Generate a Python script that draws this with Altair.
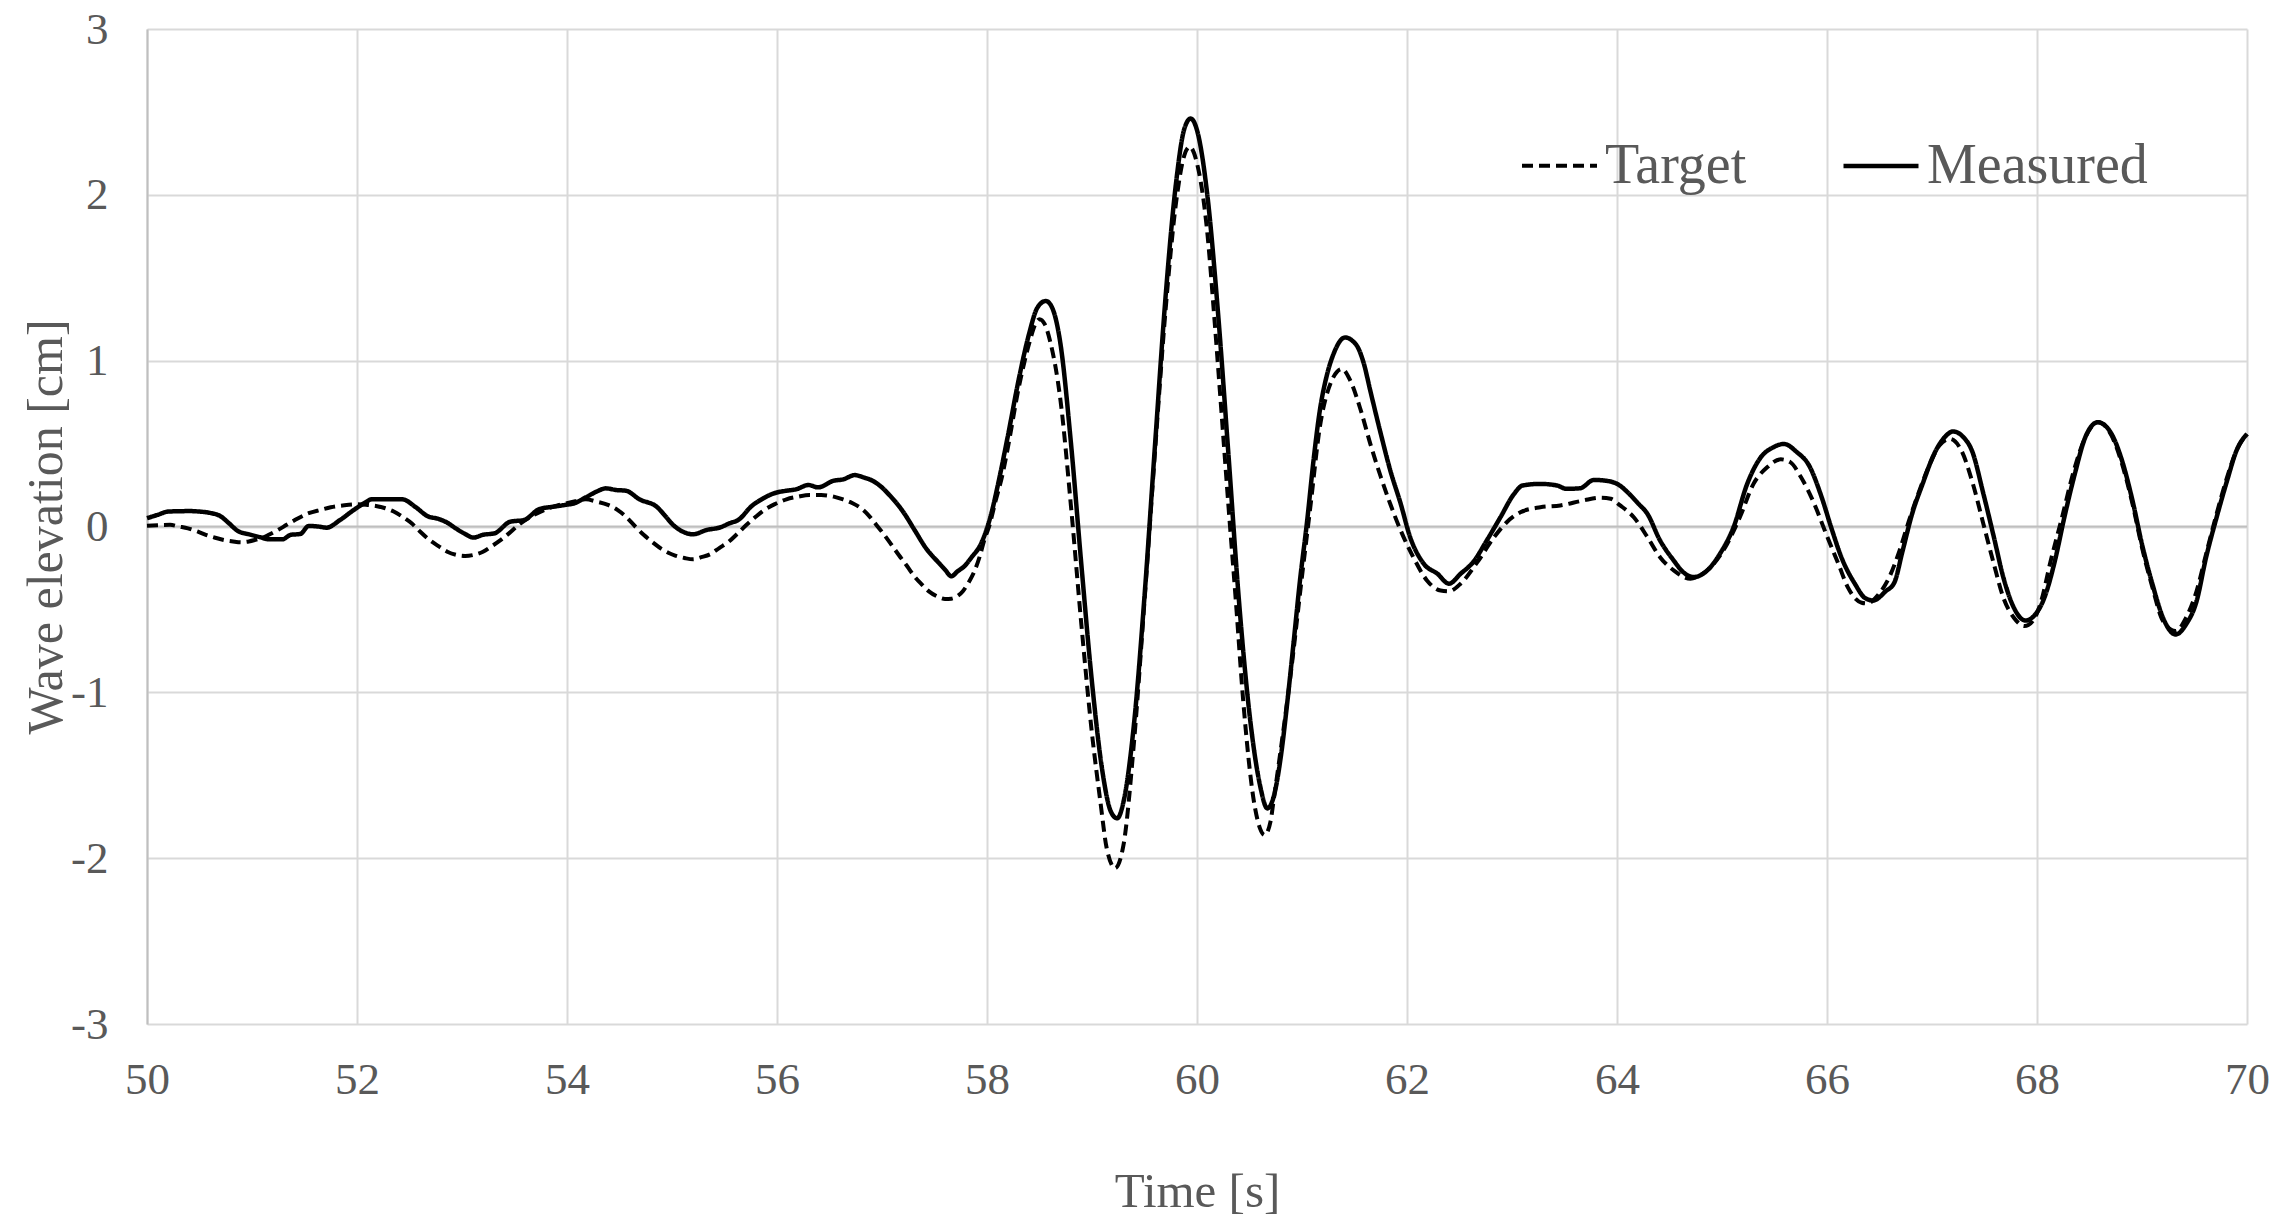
import altair as alt
import pandas as pd

# ---- data ----
target_t = [50.00, 50.10, 50.22, 50.30, 50.39, 50.48, 50.56, 50.65, 50.73, 50.82, 50.90, 50.97,
            51.03, 51.10, 51.16, 51.25, 51.33, 51.44, 51.54, 51.65, 51.75, 51.88, 52.01, 52.10,
            52.18, 52.27, 52.35, 52.43, 52.52, 52.60, 52.69, 52.78, 52.86, 52.95, 53.03, 53.12,
            53.20, 53.28, 53.37, 53.45, 53.54, 53.65, 53.75, 53.86, 53.97, 54.08, 54.18, 54.28,
            54.39, 54.48, 54.56, 54.65, 54.73, 54.82, 54.90, 54.97, 55.03, 55.12, 55.20, 55.28,
            55.37, 55.45, 55.54, 55.62, 55.71, 55.80, 55.88, 55.98, 56.09, 56.20, 56.31, 56.42,
            56.54, 56.63, 56.72, 56.80, 56.87, 56.94, 57.01, 57.09, 57.16, 57.24, 57.31, 57.38,
            57.45, 57.52, 57.60, 57.66, 57.71, 57.77, 57.82, 57.88, 57.93, 57.98, 58.02, 58.08,
            58.15, 58.20, 58.30, 58.40, 58.46, 58.50, 58.55, 58.60, 58.70, 58.80, 58.90, 59.00,
            59.08, 59.14, 59.22, 59.30, 59.40, 59.50, 59.60, 59.70, 59.80, 59.88, 59.93, 60.00,
            60.10, 60.16, 60.22, 60.30, 60.37, 60.44, 60.54, 60.60, 60.645, 60.70, 60.73, 60.79,
            60.90, 61.00, 61.08, 61.17, 61.27, 61.38, 61.46, 61.56, 61.65, 61.75, 61.84, 61.94,
            62.06, 62.19, 62.32, 62.40, 62.51, 62.67, 62.83, 62.95, 63.08, 63.27, 63.46, 63.68,
            63.84, 63.94, 64.03, 64.16, 64.29, 64.41, 64.54, 64.70, 64.79, 64.92, 65.05, 65.17,
            65.30, 65.43, 65.56, 65.65, 65.75, 65.88, 65.98, 66.11, 66.20, 66.33, 66.38, 66.49,
            66.59, 66.69, 66.78, 66.88, 66.98, 67.07, 67.17, 67.28, 67.39, 67.49, 67.59, 67.68,
            67.78, 67.88, 67.96, 68.04, 68.13, 68.23, 68.36, 68.46, 68.58, 68.71, 68.81, 68.91,
            69.00, 69.10, 69.20, 69.32, 69.42, 69.52, 69.61, 69.71, 69.81, 69.90, 70.00]
target_v = [0.005, 0.008, 0.010, 0.000, -0.011, -0.030, -0.050, -0.068, -0.081, -0.090, -0.095, -0.090,
            -0.081, -0.068, -0.050, -0.020, 0.010, 0.050, 0.080, 0.100, 0.116, 0.128, 0.134, 0.130,
            0.124, 0.110, 0.090, 0.060, 0.019, -0.030, -0.081, -0.120, -0.152, -0.172, -0.178, -0.170,
            -0.152, -0.120, -0.081, -0.040, 0.010, 0.058, 0.090, 0.118, 0.136, 0.152, 0.164, 0.150,
            0.130, 0.100, 0.060, 0.000, -0.050, -0.097, -0.135, -0.160, -0.175, -0.190, -0.198, -0.185,
            -0.165, -0.130, -0.092, -0.045, 0.010, 0.060, 0.100, 0.135, 0.164, 0.180, 0.190, 0.190,
            0.180, 0.163, 0.140, 0.110, 0.069, 0.015, -0.041, -0.110, -0.172, -0.240, -0.302, -0.350,
            -0.393, -0.420, -0.437, -0.435, -0.423, -0.390, -0.343, -0.270, -0.182, -0.070, 0.000, 0.150,
            0.320, 0.480, 0.830, 1.100, 1.220, 1.250, 1.220, 1.120, 0.760, 0.120, -0.600, -1.250,
            -1.660, -1.940, -2.060, -1.920, -1.300, -0.450, 0.450, 1.300, 1.950, 2.240, 2.290, 2.190,
            1.760, 1.300, 0.800, 0.120, -0.450, -1.050, -1.650, -1.820, -1.860, -1.780, -1.650, -1.380,
            -0.850, -0.300, 0.120, 0.600, 0.860, 0.950, 0.880, 0.700, 0.500, 0.300, 0.137, -0.024,
            -0.185, -0.325, -0.386, -0.390, -0.345, -0.215, -0.064, 0.026, 0.086, 0.116, 0.127, 0.157,
            0.173, 0.167, 0.127, 0.056, -0.064, -0.185, -0.265, -0.315, -0.295, -0.225, -0.104, 0.056,
            0.257, 0.357, 0.405, 0.388, 0.300, 0.135, -0.026, -0.228, -0.369, -0.460, -0.464, -0.410,
            -0.310, -0.147, 0.034, 0.216, 0.377, 0.488, 0.528, 0.458, 0.256, 0.014, -0.228, -0.430,
            -0.550, -0.600, -0.570, -0.450, -0.208, 0.034, 0.357, 0.538, 0.629, 0.548, 0.377, 0.135,
            -0.127, -0.369, -0.570, -0.630, -0.550, -0.389, -0.167, 0.075, 0.296, 0.458, 0.558]

measured_t = [50.00, 50.10, 50.20, 50.30, 50.40, 50.50, 50.60, 50.70, 50.78, 50.86, 50.99, 51.08,
              51.16, 51.29, 51.37, 51.46, 51.54, 51.63, 51.71, 51.84, 51.97, 52.08, 52.14, 52.31,
              52.43, 52.56, 52.67, 52.78, 52.86, 52.94, 53.03, 53.11, 53.20, 53.31, 53.46, 53.59,
              53.74, 53.88, 53.98, 54.07, 54.18, 54.28, 54.37, 54.47, 54.56, 54.69, 54.86, 54.94,
              55.01, 55.10, 55.20, 55.33, 55.46, 55.55, 55.63, 55.76, 55.87, 55.97, 56.08, 56.18,
              56.30, 56.39, 56.54, 56.63, 56.74, 56.83, 56.91, 57.00, 57.07, 57.14, 57.20, 57.31,
              57.42, 57.53, 57.60, 57.66, 57.72, 57.78, 57.86, 57.93, 58.00, 58.05, 58.10, 58.20,
              58.30, 58.40, 58.48, 58.56, 58.62, 58.70, 58.80, 58.90, 59.00, 59.10, 59.18, 59.24,
              59.30, 59.40, 59.50, 59.60, 59.70, 59.80, 59.88, 59.94, 60.00, 60.10, 60.20, 60.30,
              60.40, 60.50, 60.60, 60.67, 60.73, 60.80, 60.86, 60.92, 60.98, 61.05, 61.11, 61.17,
              61.24, 61.30, 61.41, 61.48, 61.54, 61.59, 61.65, 61.75, 61.84, 61.94, 62.03, 62.16,
              62.29, 62.40, 62.51, 62.63, 62.76, 62.89, 63.02, 63.10, 63.27, 63.43, 63.52, 63.65,
              63.78, 63.94, 64.02, 64.10, 64.20, 64.29, 64.41, 64.54, 64.63, 64.73, 64.86, 64.98,
              65.11, 65.24, 65.37, 65.49, 65.59, 65.71, 65.83, 65.95, 66.04, 66.14, 66.27, 66.36,
              66.44, 66.56, 66.64, 66.72, 66.81, 66.91, 67.02, 67.12, 67.20, 67.30, 67.38, 67.49,
              67.59, 67.68, 67.78, 67.89, 67.97, 68.07, 68.17, 68.26, 68.36, 68.46, 68.58, 68.71,
              68.81, 68.91, 69.00, 69.10, 69.20, 69.32, 69.42, 69.52, 69.61, 69.71, 69.81, 69.90,
              70.00]
measured_v = [0.050, 0.070, 0.090, 0.092, 0.093, 0.090, 0.082, 0.062, 0.020, -0.025, -0.050, -0.065,
              -0.077, -0.077, -0.050, -0.045, 0.003, 0.000, -0.007, 0.040, 0.100, 0.145, 0.164, 0.164,
              0.164, 0.116, 0.063, 0.045, 0.023, -0.011, -0.045, -0.067, -0.050, -0.041, 0.029, 0.039,
              0.106, 0.120, 0.130, 0.140, 0.176, 0.210, 0.230, 0.220, 0.216, 0.164, 0.116, 0.060,
              0.010, -0.030, -0.047, -0.021, -0.005, 0.020, 0.039, 0.124, 0.170, 0.200, 0.215, 0.224,
              0.250, 0.236, 0.276, 0.284, 0.310, 0.295, 0.276, 0.235, 0.190, 0.140, 0.090, -0.021,
              -0.132, -0.212, -0.260, -0.300, -0.270, -0.242, -0.180, -0.120, -0.010, 0.100, 0.240, 0.550,
              0.880, 1.160, 1.320, 1.360, 1.320, 1.100, 0.500, -0.240, -0.940, -1.480, -1.720, -1.760,
              -1.660, -1.190, -0.420, 0.490, 1.380, 2.070, 2.400, 2.460, 2.390, 1.990, 1.290, 0.430,
              -0.450, -1.130, -1.560, -1.700, -1.630, -1.380, -1.060, -0.700, -0.330, 0.040, 0.400, 0.700,
              0.920, 1.040, 1.140, 1.120, 1.070, 0.980, 0.820, 0.560, 0.340, 0.137, -0.064, -0.225,
              -0.285, -0.345, -0.285, -0.215, -0.084, 0.056, 0.197, 0.247, 0.257, 0.247, 0.227, 0.231,
              0.281, 0.271, 0.250, 0.207, 0.140, 0.076, -0.084, -0.205, -0.275, -0.305, -0.265, -0.165,
              -0.004, 0.257, 0.418, 0.478, 0.498, 0.450, 0.367, 0.175, -0.006, -0.190, -0.350, -0.430,
              -0.446, -0.390, -0.340, -0.147, 0.075, 0.256, 0.437, 0.538, 0.573, 0.538, 0.458, 0.196,
              -0.066, -0.308, -0.490, -0.567, -0.540, -0.430, -0.208, 0.054, 0.317, 0.538, 0.629, 0.558,
              0.397, 0.155, -0.107, -0.349, -0.550, -0.651, -0.590, -0.450, -0.187, 0.054, 0.276, 0.458,
              0.558]

series_names = ["Target", "Measured"]
x_ticks = [50, 52, 54, 56, 58, 60, 62, 64, 66, 68, 70]
y_ticks = [-3, -2, -1, 0, 1, 2, 3]
zero_line = [0]

# ---- tables ----
df = pd.concat([
    pd.DataFrame({"t": target_t, "v": target_v, "series": "Target", "order": range(len(target_t))}),
    pd.DataFrame({"t": measured_t, "v": measured_v, "series": "Measured", "order": range(len(measured_t))}),
], ignore_index=True)
zero_df = pd.DataFrame({"v": zero_line})

FONT = "Liberation Serif"
TXT = "#595959"
GRID = "#d9d9d9"

x_scale = alt.Scale(domain=[50, 70], nice=False, zero=False)
y_scale = alt.Scale(domain=[-3, 3], nice=False)

x_axis = alt.Axis(values=x_ticks, title="Time [s]", grid=True, gridColor=GRID, gridWidth=2,
                  domain=False, ticks=False, labelFont=FONT, labelFontSize=45, labelColor=TXT,
                  labelPadding=33, titleFont=FONT, titleFontSize=49, titleFontWeight="normal",
                  titleColor=TXT, titleBaseline="alphabetic", titleY=182, labelFlush=False)
y_axis = alt.Axis(values=y_ticks, title="Wave elevation [cm]", grid=True, gridColor=GRID, gridWidth=2,
                  domain=True, domainColor="#bfbfbf", domainWidth=2, ticks=False,
                  labelFont=FONT, labelFontSize=45, labelColor=TXT, labelPadding=39,
                  labelExpr="datum.value < 0 ? '-' + abs(datum.value) : '' + datum.value",
                  titleFont=FONT, titleFontSize=50, titleFontWeight="normal", titleColor=TXT,
                  titleAngle=270, titleBaseline="alphabetic", titleX=-86, titleY=497.5,
                  titleAlign="center", labelFlush=False)

zero_rule = alt.Chart(zero_df).mark_rule(color="#bfbfbf", strokeWidth=2).encode(
    y=alt.Y("v:Q", scale=y_scale, axis=y_axis)
)

lines = alt.Chart(df).mark_line(color="black", interpolate="monotone", strokeCap="butt").encode(
    x=alt.X("t:Q", scale=x_scale, axis=x_axis),
    y=alt.Y("v:Q", scale=y_scale, axis=y_axis),
    detail="series:N",
    order="order:Q",
    strokeDash=alt.StrokeDash(
        "series:N",
        scale=alt.Scale(domain=series_names, range=[[11, 6], [1, 0]]),
        legend=alt.Legend(title=None, orient="none", legendX=1373, legendY=97, direction="horizontal",
                          symbolType="stroke", symbolSize=5625, symbolStrokeWidth=4,
                          symbolStrokeColor="black", labelFont=FONT, labelFontSize=56,
                          labelColor=TXT, labelOffset=6, labelLimit=400, columnPadding=87,
                          padding=0),
    ),
    strokeWidth=alt.StrokeWidth("series:N",
                                scale=alt.Scale(domain=series_names, range=[4, 4.5]),
                                legend=None),
)

chart = alt.layer(zero_rule, lines).properties(
    width=2100, height=995,
    autosize=alt.AutoSizeParams(type="none"),
    padding={"left": 139, "top": 21, "right": 23, "bottom": 192},
    background="white",
).configure_view(stroke=None)

chart.save("out.html", embed_options={"renderer": "svg", "actions": False})
